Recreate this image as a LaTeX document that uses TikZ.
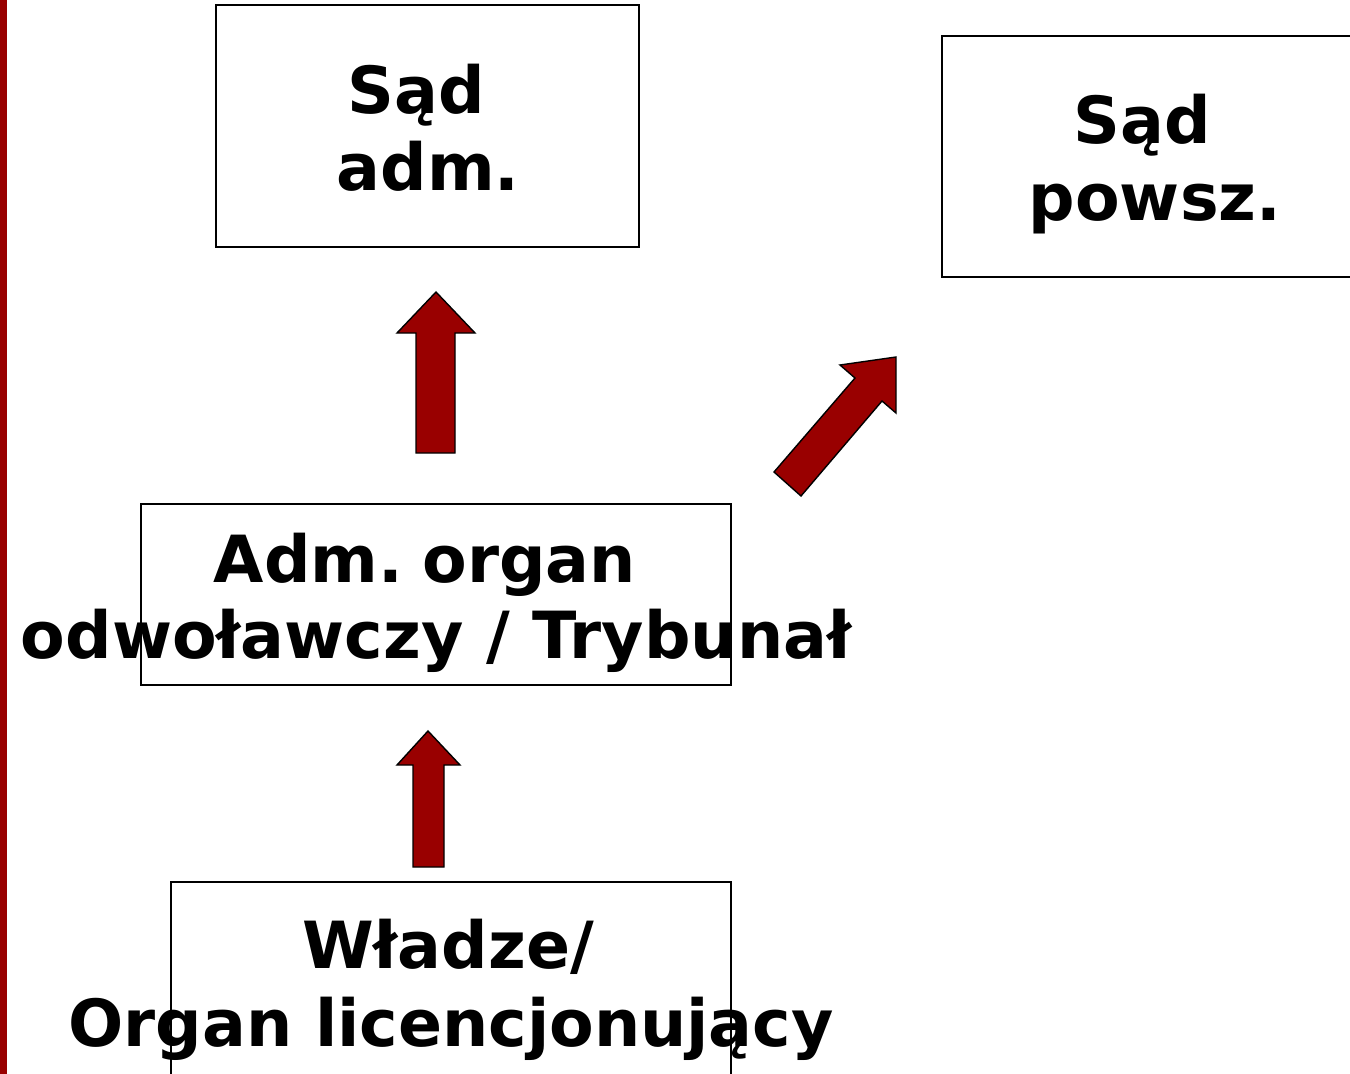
\documentclass[tikz,border=0pt]{standalone}
\usepackage{fontspec}
\setmainfont{DejaVu Sans}
\definecolor{darkred}{HTML}{990000}
\begin{document}
\begin{tikzpicture}[x=1pt,y=-1pt,
  box/.style={draw=black,line width=1.4pt,fill=none,inner sep=0pt},
  lbl/.style={anchor=base,inner sep=0pt,font=\fontsize{65}{78}\selectfont\bfseries},
  blockarrow/.style={fill=darkred,draw=black,line width=1.4pt,line join=miter}]
\useasboundingbox (0,0) rectangle (1350,1074);
\clip (0,0) rectangle (1350,1074);
\fill[darkred] (0,0) rectangle (7,1074);
% boxes
\node[box,minimum width=423pt,minimum height=242pt] (b1) at (427.5,126) {};
\node[box,minimum width=418pt,minimum height=241pt] (b2) at (1151,156.5) {};
\node[box,minimum width=590pt,minimum height=181pt] (b3) at (436,594.5) {};
\node[box,minimum width=560pt,minimum height=208pt] (b4) at (451,986) {};
% labels
\node[lbl] (t1a) at (416,113) {Sąd};
\node[lbl] (t1b) at (428,190) {adm.};
\node[lbl] (t2a) at (1142,143) {Sąd};
\node[lbl] (t2b) at (1155,220) {powsz.};
\node[lbl] (t3a) at (425,582) {Adm.\hspace{0.3em}organ};
\node[lbl] (t3b) at (436,658) {odwoławczy / Trybunał};
\node[lbl] (t4a) at (448,968) {Władze/};
\node[lbl] (t4b) at (451,1046) {Organ licencjonujący};
% arrows
\draw[blockarrow] (436,292) -- (475,333) -- (455,333) -- (455,453) -- (416,453) -- (416,333) -- (397,333) -- cycle;
\draw[blockarrow] (896,357) -- (896,413) -- (882,401) -- (801,496) -- (774,472) -- (855,378) -- (840,365) -- cycle;
\draw[blockarrow] (428,731) -- (460,765) -- (444,765) -- (444,867) -- (413,867) -- (413,765) -- (397,765) -- cycle;
\end{tikzpicture}
\end{document}
